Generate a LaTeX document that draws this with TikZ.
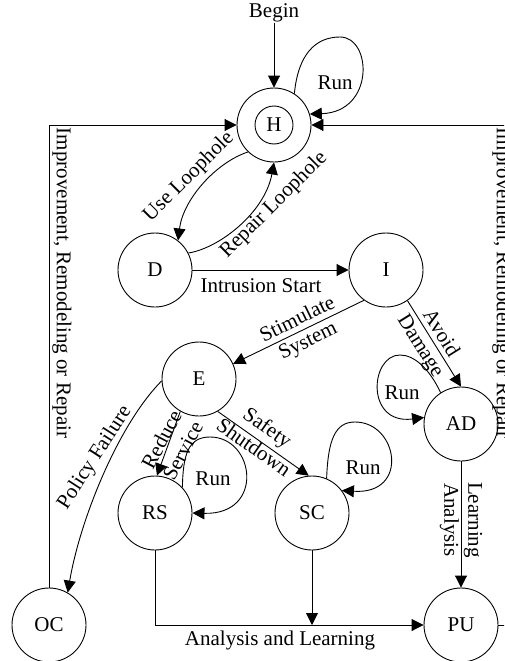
\documentclass[tikz,border=0pt]{standalone}
\usepackage{fontspec}
\setmainfont{Liberation Serif}
\usetikzlibrary{arrows.meta}
\newcommand\lblfont{\fontsize{21pt}{24pt}\selectfont}
\begin{document}
\begin{tikzpicture}[x=1pt,y=-1pt, line width=0.9pt,
 st/.style={circle,draw,minimum size=74pt,inner sep=0pt,font=\lblfont},
 arr/.style={-{Triangle[length=12pt,width=12pt]}},
 lbl/.style={font=\lblfont,inner sep=0pt,align=center}]
\useasboundingbox (0,0) rectangle (504,661);
\clip (0,0) rectangle (504,661);

\node[st] (H) at (274,125) {H};
\draw (H.center) circle[radius=19pt];
\node[st] (D) at (155,270) {D};
\node[st] (I) at (386,270) {I};
\node[st] (E) at (199,379) {E};
\node[st] (AD) at (461,424) {AD};
\node[st] (RS) at (155,513) {RS};
\node[st] (SC) at (312,513) {SC};
\node[st] (PU) at (461,625) {PU};
\node[st] (OC) at (49,625) {OC};
\node[lbl] (begin) at (274,13) {Begin};
\coordinate (cL) at (49,125);
\coordinate (cR) at (530,125);
\coordinate (cR2) at (530,625);
\coordinate (cB) at (155,625);
\coordinate (cS) at (312,625);

\draw[arr] (begin) -- (H.north);
\draw[arr] (H.57) .. controls (298,55) and (315,37) .. (340,37) .. controls (372,37) and (375,112) .. (H.17);
\node[lbl] (runH) at (335,83) {Run};

\draw[arr] (H.226) .. controls (215,163) and (183,200) .. (D.52);
\node[lbl, rotate=45] (useL) at (189,177) {Use Loophole};

\draw[arr] (D.27) .. controls (220,248) and (265,212) .. (H.south);
\node[lbl, rotate=45] (repL) at (274,205) {Repair Loophole};

\draw[arr] (D.east) -- (I.west);
\node[lbl] (intr) at (261,286) {Intrusion Start};

\draw[arr] (I.234) -- (E.24);
\node[lbl, rotate=26] (stim) at (303,331) {Stimulate\\System};

\draw[arr] (I.-55) -- (AD.north);
\node[lbl, rotate=-58] (avoid) at (430,340) {Avoid\\Damage};

\draw[arr] (AD.123) .. controls (430,370) and (415,355) .. (400,355) .. controls (370,355) and (365,425) .. (AD.170);
\node[lbl] (runAD) at (402,393) {Run};

\draw[arr] (AD.south) -- (PU.north);
\node[lbl, rotate=-90] (learn) at (461,520) {Learning\\Analysis};

\draw[arr] (E.-120) -- (RS.87);
\node[lbl, rotate=62] (reduce) at (172,445) {Reduce\\Service};

\draw[arr] (E.-60) -- (SC.95);
\node[lbl, rotate=-35] (safety) at (261,437) {Safety\\Shutdown};

\draw[arr] (RS.43) .. controls (183,455) and (188,437) .. (210,437) .. controls (255,437) and (265,515) .. (RS.0);
\node[lbl] (runRS) at (213,479) {Run};

\draw[arr] (SC.67) .. controls (328,440) and (335,422) .. (355,422) .. controls (398,422) and (410,495) .. (SC.37);
\node[lbl] (runSC) at (363,468) {Run};

\draw[arr] (E.183) .. controls (118,425) and (80,520) .. (OC.60);
\node[lbl, rotate=57] (policy) at (95,458) {Policy Failure};

\draw[arr] (RS.south) -- (cB) -- (PU.west);
\draw[arr] (SC.south) -- (cS);
\node[lbl] (anl) at (280,640) {Analysis and Learning};

\draw[arr] (OC.north) -- (cL) -- (H.west);
\draw[arr] (PU.east) -- (cR2) -- (cR) -- (H.east);
\node[lbl, rotate=-90] (impL) at (62,283) {Improvement, Remodeling or Repair};
\node[lbl, rotate=-90] (impR) at (502,283) {Improvement, Remodeling or Repair};
\end{tikzpicture}
\end{document}
